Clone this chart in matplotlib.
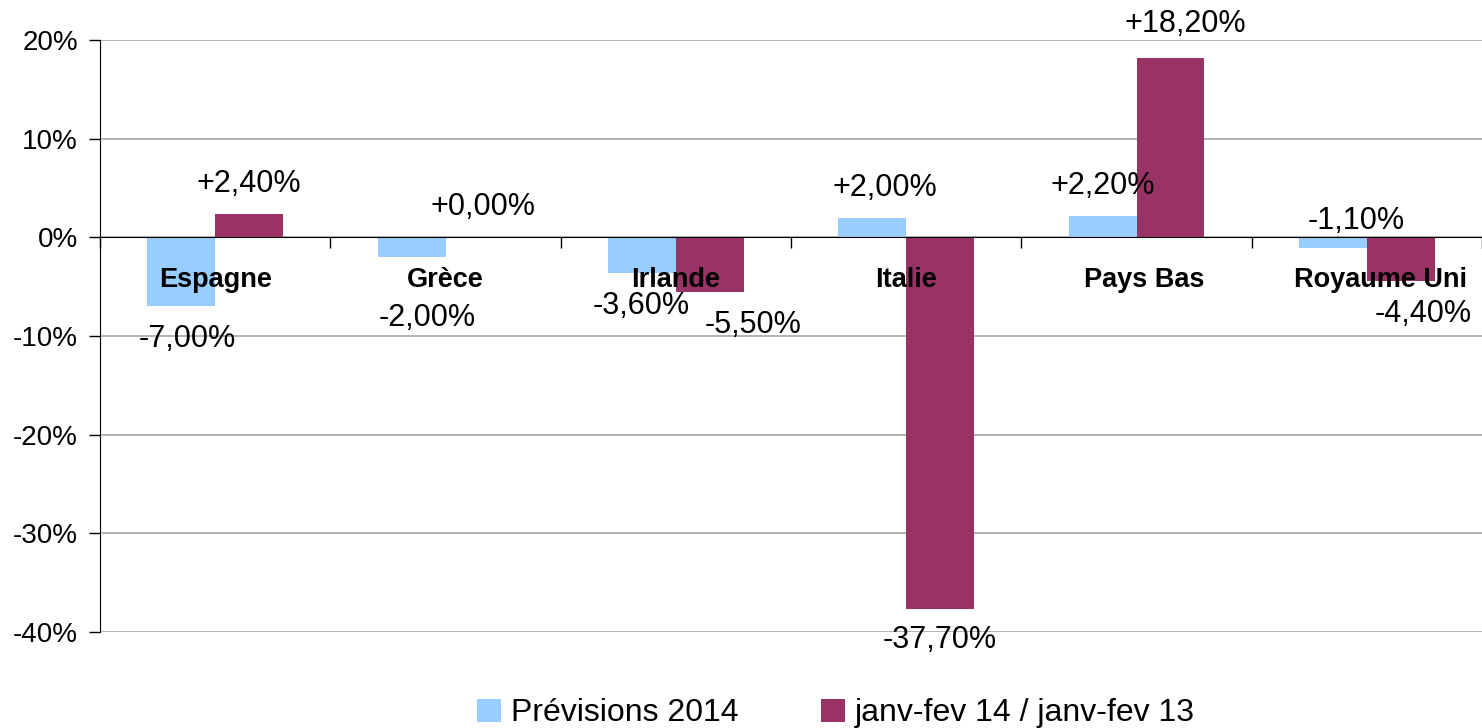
import matplotlib
matplotlib.use('agg')
import matplotlib.pyplot as plt
import numpy as np

plt.rcParams['font.family'] = ['Liberation Sans', 'DejaVu Sans']

# Données
pays = ['Espagne', 'Grèce', 'Irlande', 'Italie', 'Pays Bas', 'Royaume Uni']
previsions_2014 = [-7.0, -2.0, -3.6, 2.0, 2.2, -1.1]
janv_fev = [2.4, 0.0, -5.5, -37.7, 18.2, -4.4]
series_noms = ['Prévisions 2014', 'janv-fev 14 / janv-fev 13']
y_ticks = [20, 10, 0, -10, -20, -30, -40]

couleurs = ['#99CCFF', '#993366']

fig = plt.figure(figsize=(14.82, 7.28), dpi=100)
ax = fig.add_axes([0.0675, 0.132, 0.9325, 0.813])

x = np.arange(len(pays))
w = 0.295
b1 = ax.bar(x - w / 2, previsions_2014, w, color=couleurs[0], label=series_noms[0], zorder=2)
b2 = ax.bar(x + w / 2, janv_fev, w, color=couleurs[1], label=series_noms[1], zorder=2)

ax.set_xlim(-0.5, len(pays) - 0.5)
ax.set_ylim(-40, 20)
ax.set_yticks(y_ticks)
ax.set_yticklabels([f'{v}%' for v in y_ticks], fontsize=20)
ax.yaxis.grid(True, color='#A6A6A6', linewidth=1.2, zorder=0)
ax.tick_params(axis='y', direction='out', length=8, width=1, pad=8)

# Axe des x sur la ligne du zéro
ax.spines['top'].set_visible(False)
ax.spines['right'].set_visible(False)
ax.spines['bottom'].set_position(('data', 0))
ax.spines['bottom'].set_zorder(3)
ax.set_xticks(np.arange(len(pays) + 1) - 0.5)
ax.set_xticklabels([])
ax.tick_params(axis='x', direction='out', length=8, width=1)

# Noms des pays sous la ligne du zéro
decal_pays = {4: 8, 5: 14}
for i, nom in enumerate(pays):
    ax.annotate(nom, (i, 0), xytext=(decal_pays.get(i, 0), -43), textcoords='offset pixels',
                ha='center', va='center', fontsize=19.5, fontweight='bold', zorder=4)

# Etiquettes des valeurs
def fmt(v):
    return f'{v:+.2f}%'.replace('.', ',')

# décalages manuels (dx, dy) en pixels, comme dans l'original
decal = {(0, 0): (6, 0), (1, 0): (16, 28), (1, 1): (4, 0), (2, 0): (-1, 0),
         (2, 1): (43, 0), (3, 0): (13, 0), (3, 1): (0, -2), (4, 1): (15, 4),
         (5, 0): (23, 0), (5, 1): (22, 0)}
for s, (barres, vals) in enumerate([(b1, previsions_2014), (b2, janv_fev)]):
    for i, (rect, v) in enumerate(zip(barres, vals)):
        dx, dy = decal.get((i, s), (0, 0))
        if (i, s) == (5, 0):
            base, off = 0, 16
        else:
            base = v
            off = 30 + dy if v >= 0 else -33 - dy
        ax.annotate(fmt(v), (rect.get_x() + rect.get_width() / 2, base),
                    xytext=(dx, off), textcoords='offset pixels',
                    ha='center', va='center', fontsize=22, zorder=5)

leg = fig.legend(loc='center', bbox_to_anchor=(0.564, 0.02), ncol=2, frameon=False,
                 fontsize=23, handlelength=0.75, handleheight=0.75, handletextpad=0.3,
                 columnspacing=2.6)

fig.savefig('out.png', dpi=100)
